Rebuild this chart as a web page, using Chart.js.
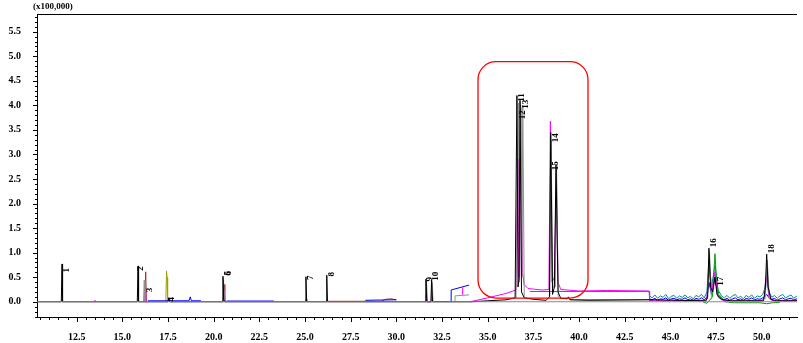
<!DOCTYPE html>
<html>
<head>
<meta charset="utf-8">
<script src="https://cdn.jsdelivr.net/npm/chart.js@4.4.0/dist/chart.umd.min.js"></script>
<style>
  html, body { margin: 0; padding: 0; background: #fff; }
</style>
</head>
<body>
<canvas id="grafico" width="803" height="343"></canvas>
<script>
// Eixos (tempo de retenção em min, intensidade em x100.000)
const xTicks = [12.5, 15.0, 17.5, 20.0, 22.5, 25.0, 27.5, 30.0, 32.5, 35.0, 37.5, 40.0, 42.5, 45.0, 47.5, 50.0];
const yTicks = [0.0, 0.5, 1.0, 1.5, 2.0, 2.5, 3.0, 3.5, 4.0, 4.5, 5.0, 5.5];

// Linha de base cinza
const zeroRt = [10.33, 51.93];
const zeroInt = [0, 0];

// Traço principal (preto)
const blackRt = [10.33, 11.66, 11.70, 11.73, 15.82, 15.86, 15.89, 17.50, 17.55, 17.60, 20.47, 20.51, 20.55, 20.60,
  25.01, 25.05, 25.09, 26.15, 26.19, 26.23, 31.57, 31.62, 31.67, 31.89, 31.93, 31.98, 34.10, 35.0, 36.0, 36.50,
  36.60, 36.66, 36.72, 36.77, 36.85, 37.0, 37.5, 38.2, 38.38, 38.45, 38.55, 38.65, 38.74, 38.85, 39.0, 39.35,
  39.42, 39.5, 40.5, 43.84, 46.95, 47.04, 47.11, 47.2, 47.32, 47.44, 47.55, 47.8, 48.3, 50.1, 50.2, 50.27,
  50.35, 50.5, 50.8, 51.93];
const blackInt = [0, 0, 0.77, 0, 0, 0.73, 0, 0, 0.08, 0, 0, 0.52, 0.05, 0,
  0, 0.51, 0, 0, 0.54, 0, 0, 0.46, 0, 0, 0.45, 0, 0, 0.02, 0.04, 0.08,
  4.20, 0.3, 0.5, 4.10, 0.2, 0.08, 0.05, 0.03, 0.1, 3.45, 0.15, 0.3, 2.80, 0.2, 0.07, 0.06,
  0.1, 0.04, 0.03, 0.04, 0.02, 0.1, 1.09, 0.3, 0.2, 0.5, 0.15, 0.05, 0.02, 0.02, 0.3, 0.97,
  0.3, 0.05, 0.02, 0.02];

// Traço cinza
const grayRt = [16.16, 16.20, 16.24, 16.25, 20.50, 20.54, 20.60, 20.61, 31.60, 31.65, 31.70, 31.92, 31.96, 32.01,
  32.02, 33.21, 33.21, 33.98, 33.99, 36.55, 36.68, 36.74, 36.82, 36.87, 36.92, 37.0, 37.05, 38.40, 38.47,
  38.56, 38.70, 38.77, 38.86, 38.87, 47.02, 47.14, 47.25, 47.26, 50.18, 50.30, 50.42];
const grayInt = [0, 0.44, 0, null, 0, 0.45, 0, null, 0, 0.42, 0, 0, 0.40, 0,
  null, 0, 0.12, 0.14, null, 0.08, 4.05, 0.4, 3.95, 0.5, 4.0, 0.1, null, 0.1, 3.3,
  0.3, 0.3, 2.7, 0.1, null, 0.05, 1.02, 0.05, null, 0.05, 0.85, 0.05];

// Traço magenta
const magentaRt = [13.48, 13.5, 13.52, 13.53, 16.22, 16.26, 16.30, 16.31, 20.52, 20.56, 20.60, 20.61,
  25.03, 25.06, 25.10, 25.11, 26.17, 26.2, 26.24, 26.25, 31.58, 31.62, 31.66, 31.91, 31.95, 31.99, 32.0,
  33.63, 33.63, 33.64, 34.03, 35.0, 36.0, 36.55, 36.66, 36.70, 36.80, 36.90, 37.0, 37.2, 38.0, 38.35,
  38.43, 38.52, 38.65, 38.76, 38.85, 39.0, 40.0, 41.5, 43.84];
const magentaInt = [0, 0.03, 0, null, 0, 0.34, 0, null, 0, 0.22, 0, null,
  0, 0.05, 0, null, 0, 0.04, 0, null, 0, 0.14, 0, 0, 0.16, 0, null,
  0.14, 0.30, null, 0, 0.08, 0.17, 0.24, 2.9, 0.5, 4.0, 0.6, 0.35, 0.27, 0.24, 0.25,
  3.68, 0.4, 0.5, 2.6, 0.4, 0.25, 0.22, 0.23, 0.22];

// Traço azul
const blueRt = [16.4, 18.65, 18.72, 18.78, 19.3, 19.31, 20.7, 23.3, 23.31, 28.3, 29.0, 30.0, 30.01,
  32.05, 33.0, 33.0, 33.98];
const blueInt = [0.02, 0.02, 0.1, 0.02, 0.02, null, 0.015, 0.015, null, 0.03, 0.035, 0.04, null,
  0.005, 0.005, 0.24, 0.34];

// Traço verde-azulado (patamar antes do ruído)
const tealRt = [37.3, 43.84];
const tealInt = [0.21, 0.21];

// Oliva, verde e marrom
const oliveRt = [17.38, 17.42, 17.45, 17.48, 17.49, 39.5, 43.84];
const oliveInt = [0, 0.63, 0.5, 0, null, 0.045, 0.045];
const greenRt = [46.8, 47.0, 47.3, 47.44, 47.52, 47.65, 48.0, 48.5, 49.9, 50.27, 50.6, 51.0];
const greenInt = [-0.01, -0.03, 0.1, 0.98, 0.45, 0.15, 0.0, -0.02, -0.02, -0.04, -0.02, -0.01];
const brownRt = [16.24, 16.28, 16.32, 16.33, 20.53, 20.57, 20.61, 20.62, 26.22, 29.2, 29.4, 29.7, 30.0];
const brownInt = [0, 0.61, 0, null, 0, 0.35, 0, null, 0.01, 0.01, 0.05, 0.06, 0.04];

// Região ruidosa depois de 43,8 min
const noiseRt = [43.84, 43.86, 44.0, 44.15, 44.3, 44.45, 44.6, 44.75, 44.9, 45.05, 45.2, 45.35, 45.5, 45.65,
  45.8, 45.95, 46.1, 46.25, 46.4, 46.55, 46.7, 46.85, 47.0, 47.11, 47.25, 47.44, 47.6, 47.8, 47.95, 48.1,
  48.25, 48.4, 48.55, 48.7, 48.85, 49.0, 49.15, 49.3, 49.45, 49.6, 49.75, 49.9, 50.05, 50.15, 50.27, 50.4,
  50.55, 50.7, 50.85, 51.0, 51.15, 51.3, 51.45, 51.6, 51.75, 51.93];
const tealNoise = [0.21, 0.12, 0.08, 0.14, 0.07, 0.12, 0.09, 0.15, 0.06, 0.11, 0.13, 0.07, 0.12, 0.09,
  0.14, 0.08, 0.11, 0.06, 0.13, 0.1, 0.15, 0.08, 0.2, 0.85, 0.3, 0.75, 0.25, 0.12, 0.08, 0.13,
  0.07, 0.12, 0.15, 0.08, 0.11, 0.06, 0.13, 0.09, 0.14, 0.07, 0.12, 0.1, 0.15, 0.25, 0.6, 0.2,
  0.09, 0.13, 0.07, 0.12, 0.15, 0.08, 0.11, 0.14, 0.07, 0.12];
const blueNoise = [0.03, 0.06, 0.04, 0.07, 0.03, 0.06, 0.05, 0.08, 0.03, 0.06, 0.07, 0.04, 0.06, 0.05,
  0.08, 0.04, 0.06, 0.03, 0.07, 0.05, 0.08, 0.04, 0.1, 0.4, 0.15, 0.5, 0.12, 0.06, 0.04, 0.07,
  0.03, 0.06, 0.08, 0.04, 0.06, 0.03, 0.07, 0.05, 0.08, 0.04, 0.06, 0.05, 0.08, 0.1, 0.15, 0.08,
  0.05, 0.07, 0.03, 0.06, 0.08, 0.04, 0.06, 0.07, 0.04, 0.06];
const magentaNoise = [0.22, 0.03, 0.02, 0.04, 0.02, 0.03, 0.01, 0.03, 0.02, 0.04, 0.02, 0.03, 0.02, 0.04,
  0.01, 0.03, 0.02, 0.03, 0.04, 0.02, 0.03, 0.02, 0.06, 0.75, 0.2, 0.6, 0.1, 0.04, 0.02, 0.03,
  0.02, 0.04, 0.01, 0.03, 0.02, 0.03, 0.04, 0.02, 0.03, 0.01, 0.03, 0.02, 0.04, 0.1, 0.5, 0.08,
  0.03, 0.02, 0.04, 0.02, 0.03, 0.01, 0.03, 0.02, 0.04, 0.02];

// Rótulos dos picos (posição do centro do texto)
const peakNames = ['1', '2', '3', '4', '5', '6', '7', '8', '9', '10', '11', '12', '13', '14', '15', '16', '17', '18'];
const labelRt = [11.97, 16.02, 16.51, 17.72, 20.77, 20.80, 25.33, 26.48, 31.84, 32.17, 36.88, 36.93, 37.09, 38.74, 38.74, 47.39, 47.77, 50.56];
const labelInt = [0.64, 0.68, 0.24, 0.05, 0.58, 0.58, 0.49, 0.56, 0.46, 0.52, 4.16, 3.81, 4.02, 3.34, 2.77, 1.20, 0.42, 1.08];

const fonteSerif = '"Liberation Serif", "DejaVu Serif", serif';

function serie(xs, ys, cor, largura) {
  return {
    data: xs.map((x, i) => ({ x: x, y: ys[i] })),
    borderColor: cor,
    borderWidth: largura || 1,
    pointRadius: 0,
    tension: 0,
    fill: false,
    spanGaps: false
  };
}

// Desenha marcas dos eixos, linha superior, rótulos dos picos e a caixa vermelha
const decoracao = {
  id: 'decoracao',
  afterDraw(chart) {
    const ctx = chart.ctx;
    const area = chart.chartArea;
    const sx = chart.scales.x;
    const sy = chart.scales.y;
    ctx.save();
    ctx.strokeStyle = '#000';
    ctx.lineWidth = 1;
    ctx.beginPath();
    ctx.moveTo(area.left, area.top + 0.5);
    ctx.lineTo(area.right, area.top + 0.5);
    // marcas do eixo y a cada 0,1
    for (let i = -3; i <= 58; i++) {
      const py = Math.round(sy.getPixelForValue(i / 10)) + 0.5;
      const len = i % 5 === 0 ? 4 : 2;
      ctx.moveTo(area.left - len, py);
      ctx.lineTo(area.left, py);
    }
    // marcas do eixo x a cada 0,5
    for (let i = 21; i <= 103; i++) {
      const px = Math.round(sx.getPixelForValue(i / 2)) + 0.5;
      const len = i % 5 === 0 ? 5 : 3;
      ctx.moveTo(px, area.bottom);
      ctx.lineTo(px, area.bottom + len);
    }
    ctx.stroke();

    // multiplicador
    ctx.fillStyle = '#000';
    ctx.font = 'bold 9px ' + fonteSerif;
    ctx.textAlign = 'left';
    ctx.textBaseline = 'middle';
    ctx.fillText('(x100,000)', 33, 7);

    // rótulos dos picos, girados
    ctx.textAlign = 'center';
    peakNames.forEach((nome, i) => {
      const px = sx.getPixelForValue(labelRt[i]);
      const py = sy.getPixelForValue(labelInt[i]);
      ctx.save();
      ctx.translate(px, py);
      ctx.rotate(-Math.PI / 2);
      ctx.fillText(nome, 0, 0);
      ctx.restore();
    });

    // caixa de destaque
    const x0 = sx.getPixelForValue(34.47), x1 = sx.getPixelForValue(40.49);
    const y0 = sy.getPixelForValue(4.89), y1 = sy.getPixelForValue(0.075);
    const r = 18;
    ctx.strokeStyle = '#ff0000';
    ctx.lineWidth = 1.3;
    ctx.beginPath();
    ctx.moveTo(x0 + r, y0);
    ctx.lineTo(x1 - r, y0);
    ctx.arcTo(x1, y0, x1, y0 + r, r);
    ctx.lineTo(x1, y1 - r);
    ctx.arcTo(x1, y1, x1 - r, y1, r);
    ctx.lineTo(x0 + r, y1);
    ctx.arcTo(x0, y1, x0, y1 - r, r);
    ctx.lineTo(x0, y0 + r);
    ctx.arcTo(x0, y0, x0 + r, y0, r);
    ctx.stroke();
    ctx.restore();
  }
};

const fonteTicks = { family: fonteSerif, size: 10, weight: 'bold' };

new Chart(document.getElementById('grafico'), {
  type: 'line',
  data: {
    datasets: [
      serie(zeroRt, zeroInt, '#8a8a8a'),
      serie(blackRt, blackInt, '#000000'),
      serie(grayRt, grayInt, '#909090'),
      serie(magentaRt, magentaInt, '#ff00ff'),
      serie(noiseRt, magentaNoise, '#ff00ff'),
      serie(greenRt, greenInt, '#00a000'),
      serie(blueRt, blueInt, '#0000ff'),
      serie(noiseRt, blueNoise, '#0000ff'),
      serie(tealRt, tealInt, '#008b8b'),
      serie(noiseRt, tealNoise, '#008b8b'),
      serie(oliveRt, oliveInt, '#a0a000'),
      serie(brownRt, brownInt, '#a0302a')
    ]
  },
  options: {
    responsive: false,
    animation: false,
    events: [],
    layout: { padding: { top: 12, right: 6, left: 0, bottom: 0 } },
    plugins: { legend: { display: false }, tooltip: { enabled: false } },
    scales: {
      x: {
        type: 'linear',
        min: 10.33,
        max: 51.93,
        grid: { display: false },
        border: { display: true, color: '#000', width: 1 },
        afterBuildTicks: s => { s.ticks = xTicks.map(v => ({ value: v })); },
        afterFit: s => { s.height = 26; },
        ticks: {
          font: fonteTicks, color: '#000', padding: 6, maxRotation: 0, autoSkip: false,
          callback: v => v.toFixed(1)
        }
      },
      y: {
        type: 'linear',
        min: -0.31,
        max: 5.86,
        grid: { display: false },
        border: { display: true, color: '#000', width: 1 },
        afterBuildTicks: s => { s.ticks = yTicks.map(v => ({ value: v })); },
        afterFit: s => { s.width = 37; },
        ticks: {
          font: fonteTicks, color: '#000', padding: 8, autoSkip: false,
          callback: v => v.toFixed(1)
        }
      }
    }
  },
  plugins: [decoracao]
});
</script>
</body>
</html>
